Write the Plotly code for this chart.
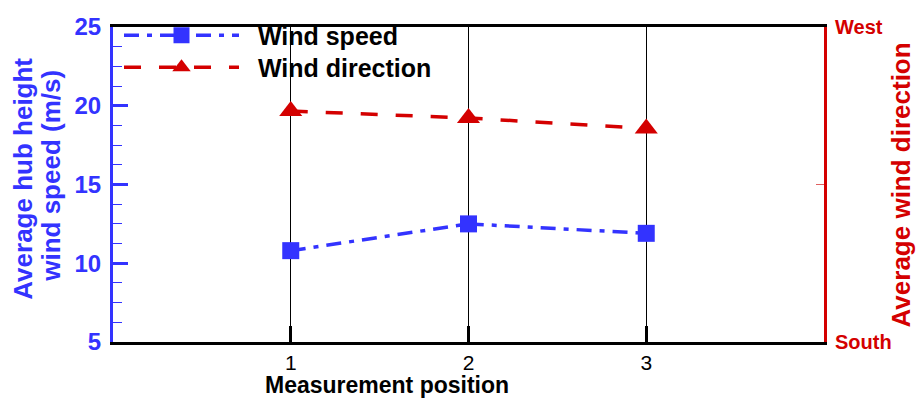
import plotly.graph_objects as go

# Measurement data
positions = [1, 2, 3]
wind_speed = [10.8, 12.5, 11.9]          # m/s
wind_direction = [246.0, 244.0, 241.0]   # degrees (180 = South, 270 = West)

speed_ticks = [5, 10, 15, 20, 25]
dir_tickvals = [180, 270]
dir_ticktext = ["South", "West"]

BLUE = "#3333FF"
RED = "#D40000"
FONT = "Liberation Sans, Arial, sans-serif"

W, H = 916, 405
L, R, T, B = 113, 92, 16, 63
PW, PH = W - L - R, H - T - B


def px_x(p):
    return (p - L) / PW


def px_y(p):
    return (H - B - p) / PH


legend_font = dict(family=FONT, size=25, color="black", weight="bold")
legend_common = dict(xanchor="left", yanchor="top", bgcolor="rgba(0,0,0,0)",
                     itemwidth=115, font=legend_font)

fig = go.Figure()
fig.add_trace(go.Scatter(
    x=positions, y=wind_speed, name="\u00a0\u00a0Wind speed", mode="lines+markers",
    line=dict(color=BLUE, width=3.5, dash="15px,8px,5px,8px"),
    marker=dict(symbol="square", size=17, color=BLUE),
    yaxis="y", legend="legend",
))
fig.add_trace(go.Scatter(
    x=positions, y=wind_direction, name="\u00a0\u00a0Wind direction", mode="lines+markers",
    line=dict(color=RED, width=3.5, dash="17px,18px"),
    marker=dict(symbol="triangle-up", size=20, color=RED),
    yaxis="y2", legend="legend2",
))

fig.update_layout(
    width=W, height=H,
    margin=dict(l=L, r=R, t=T, b=B, pad=0),
    paper_bgcolor="white", plot_bgcolor="white",
    showlegend=True,
    legend=dict(x=px_x(119), y=px_y(1), **legend_common),
    legend2=dict(x=px_x(119), y=px_y(34), **legend_common),
    xaxis=dict(
        range=[0, 4], tickvals=positions, ticktext=[str(p) for p in positions],
        ticks="inside", ticklen=16, tickwidth=3, tickcolor="black",
        showgrid=True, gridcolor="black", gridwidth=1,
        showline=True, linecolor="black", linewidth=3, mirror=True,
        zeroline=False,
        tickfont=dict(family=FONT, size=21, color="black"),
    ),
    yaxis=dict(
        range=[5, 25], tickvals=speed_ticks,
        ticks="inside", ticklen=15, tickwidth=3, tickcolor=BLUE,
        minor=dict(dtick=1.25, tick0=5, ticks="inside", ticklen=9,
                   tickwidth=1, tickcolor=BLUE, showgrid=False),
        showgrid=False, zeroline=False,
        showline=True, linecolor=BLUE, linewidth=3,
        tickfont=dict(family=FONT, size=24, color=BLUE, weight="bold"),
        ticklabelstandoff=4,
    ),
    yaxis2=dict(
        range=[180, 270], overlaying="y", side="right",
        tickvals=dir_tickvals, ticktext=dir_ticktext,
        ticks="inside", ticklen=16, tickwidth=3, tickcolor=RED,
        minor=dict(dtick=45, tick0=180, ticks="inside", ticklen=8,
                   tickwidth=1, tickcolor="#E06060", showgrid=False),
        showgrid=False, zeroline=False,
        showline=True, linecolor=RED, linewidth=3,
        tickfont=dict(family=FONT, size=20, color=RED, weight="bold"),
        ticklabelstandoff=4,
    ),
)

annotations = [
    dict(text="Measurement position", x=px_x(387), y=px_y(387),
         font=dict(family=FONT, size=23, color="black", weight="bold")),
    dict(text="Average hub height", x=px_x(23), y=px_y(173), textangle=-90,
         font=dict(family=FONT, size=26, color=BLUE, weight="bold")),
    dict(text="wind speed (m/s)", x=px_x(51), y=px_y(170), textangle=-90,
         font=dict(family=FONT, size=26, color=BLUE, weight="bold")),
    dict(text="Average wind direction", x=px_x(901), y=px_y(180), textangle=-90,
         font=dict(family=FONT, size=26, color=RED, weight="bold")),
]
for a in annotations:
    a.update(xref="paper", yref="paper", xanchor="center", yanchor="middle",
             showarrow=False)
fig.update_layout(annotations=annotations)

fig.write_html("out.html")
